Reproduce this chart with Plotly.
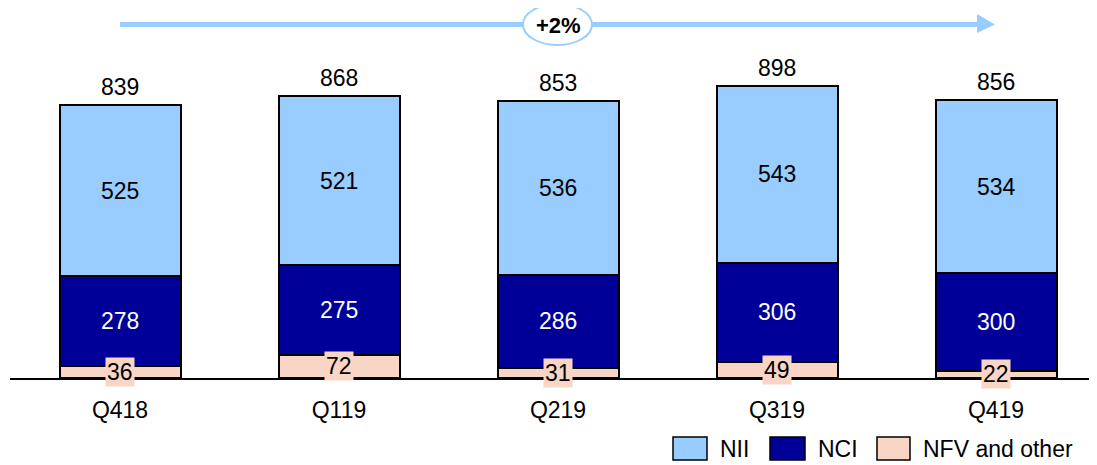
import plotly.graph_objects as go

categories = ["Q418", "Q119", "Q219", "Q319", "Q419"]
nii = [525, 521, 536, 543, 534]
nci = [278, 275, 286, 306, 300]
nfv = [36, 72, 31, 49, 22]
growth_label = "+2%"
series_names = ["NII", "NCI", "NFV and other"]

C_NII = "#99CCFF"
C_NCI = "#000099"
C_NFV = "#F9D5C5"
FONT = "Liberation Sans, Arial, sans-serif"
FS = 23

OFF = 8  # page body margin
W, H = 1097 - OFF, 465 - OFF
ML, MR, MT, MB = 10 - OFF, 7, 10 - OFF, 87
PW = W - ML - MR
PH = H - MT - MB
x0_px, step_px = 120 - OFF, 219
xr = [(ML - x0_px) / step_px, (ML + PW - x0_px) / step_px]
ymax = PH / 0.325

def px_x(p):
    return (p - OFF - ML) / PW

def px_y(p):
    return (MT + PH - (p - OFF)) / PH

def dx(p):
    return (p - OFF - x0_px) / step_px

xs = list(range(len(categories)))
totals = [a + b + c for a, b, c in zip(nii, nci, nfv)]

fig = go.Figure()
bw = 121 / step_px
for name, vals, col in [(series_names[2], nfv, C_NFV), (series_names[1], nci, C_NCI), (series_names[0], nii, C_NII)]:
    fig.add_trace(go.Bar(x=xs, y=vals, name=name, marker=dict(color=col, line=dict(color="black", width=2)),
                         width=bw, showlegend=False, hoverinfo="y"))

ann = []
for i in xs:
    ann.append(dict(x=i, y=nfv[i] / 2, text=str(nfv[i]), showarrow=False, bgcolor=C_NFV,
                    font=dict(size=FS, color="black", family=FONT), borderpad=1))
    ann.append(dict(x=i, y=nfv[i] + nci[i] / 2, text=str(nci[i]), showarrow=False,
                    font=dict(size=FS, color="white", family=FONT)))
    ann.append(dict(x=i, y=nfv[i] + nci[i] + nii[i] / 2, text=str(nii[i]), showarrow=False,
                    font=dict(size=FS, color="black", family=FONT)))
    ann.append(dict(x=i, y=totals[i], text=str(totals[i]), showarrow=False, yanchor="bottom", yshift=3,
                    font=dict(size=FS, color="black", family=FONT)))

shapes = []
# growth arrow
ya = px_y(24.5)
xe = dx(977)
shapes.append(dict(type="line", xref="x", yref="paper", x0=0, x1=xe, y0=ya, y1=ya,
                   line=dict(color=C_NII, width=5)))
shapes.append(dict(type="path", xref="x", yref="paper",
                   path=f"M {xe},{px_y(14)} L {dx(995)},{ya} L {xe},{px_y(33)} Z",
                   fillcolor=C_NII, line=dict(color=C_NII, width=0)))
shapes.append(dict(type="circle", xref="x", yref="paper",
                   x0=dx(523), x1=dx(592), y0=px_y(45), y1=px_y(4),
                   fillcolor="white", line=dict(color=C_NII, width=2)))
ann.append(dict(x=2, xref="x", yref="paper", y=px_y(26), yanchor="middle", xanchor="center",
                text="<b>" + growth_label + "</b>", showarrow=False,
                font=dict(size=22, color="black", family=FONT)))

# custom legend
leg = [(series_names[0], C_NII, 673, 707), (series_names[1], C_NCI, 770, 805), (series_names[2], C_NFV, 877, 910)]
for name, col, a, b in leg:
    shapes.append(dict(type="rect", xref="paper", yref="paper", x0=px_x(a), x1=px_x(b), y0=px_y(460), y1=px_y(437),
                       fillcolor=col, line=dict(color="black", width=1.5)))
    ann.append(dict(xref="paper", yref="paper", x=px_x(b + 11), y=px_y(449), xanchor="left", yanchor="middle",
                    text=name, showarrow=False, font=dict(size=FS, color="black", family=FONT)))

fig.update_layout(
    barmode="stack", width=W, height=H, margin=dict(l=ML, r=MR, t=MT, b=MB),
    plot_bgcolor="white", paper_bgcolor="white", annotations=ann, shapes=shapes,
    font=dict(family=FONT, size=FS, color="black"),
    xaxis=dict(range=xr, tickvals=xs, ticktext=categories, showgrid=False, zeroline=False,
               showline=True, linecolor="black", linewidth=2, ticks="", ticklabelstandoff=10,
               tickfont=dict(size=FS, family=FONT, color="black")),
    yaxis=dict(range=[0, ymax], visible=False, showgrid=False),
)
fig.write_html("out.html")
